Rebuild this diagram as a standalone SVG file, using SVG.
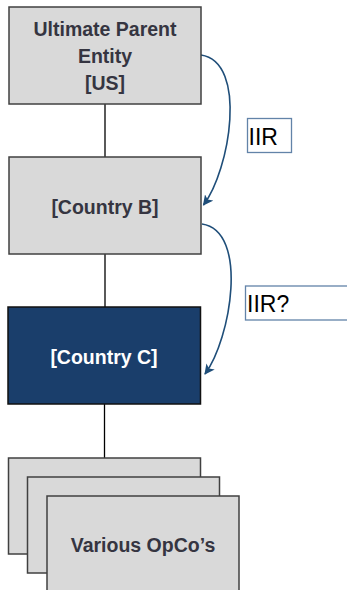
<svg xmlns="http://www.w3.org/2000/svg" width="347" height="590" viewBox="0 0 347 590">
  <style>
    .box { fill: #d9d9d9; stroke: #404040; stroke-width: 1.5; }
    .dark { fill: #1a3e6b; stroke: #111111; stroke-width: 1.5; }
    .name { font-family: "Liberation Sans", Arial, sans-serif; font-weight: bold; font-size: 19.5px; fill: #353541; text-anchor: middle; }
    .name-light { fill: #ffffff; }
    .link { stroke: #000000; stroke-width: 1.3; fill: none; }
    .flow { stroke: #1f4e79; stroke-width: 1.6; fill: none; marker-end: url(#head); }
    .tag { fill: #ffffff; stroke: #6283a8; stroke-width: 1.3; }
    .tag-text { font-family: "Liberation Sans", Arial, sans-serif; font-size: 23px; fill: #000000; }
  </style>
  <defs>
    <marker id="head" viewBox="0 0 10 10" refX="9" refY="5" markerWidth="6.5" markerHeight="6.5" orient="auto" markerUnits="strokeWidth">
      <path d="M0,0 L10,5 L0,10 L2.5,5 Z" fill="#1f4e79"/>
    </marker>
  </defs>

  <!-- ownership lines -->
  <g id="connectors">
    <line class="link" x1="105" y1="104" x2="105" y2="157"/>
    <line class="link" x1="105" y1="254" x2="105" y2="307"/>
    <line class="link" x1="104.5" y1="404" x2="104.5" y2="458"/>
    <path class="flow" d="M201,55 C248,62 230,170 203.5,205"/>
    <path class="flow" d="M202,224 C249,231 231,339 205,374"/>
  </g>

  <g id="ultimate-parent">
    <rect class="box" x="9" y="7" width="192" height="97"/>
    <text class="name" x="105" y="36">Ultimate Parent</text>
    <text class="name" x="105" y="63">Entity</text>
    <text class="name" x="105" y="90">[US]</text>
  </g>

  <g id="country-b">
    <rect class="box" x="9" y="157" width="192" height="97"/>
    <text class="name" x="105" y="214">[Country B]</text>
  </g>

  <g id="country-c">
    <rect class="dark" x="8" y="307" width="192.5" height="97"/>
    <text class="name name-light" x="104" y="364">[Country C]</text>
  </g>

  <g id="opcos">
    <rect class="box" x="8.5" y="458" width="192" height="96"/>
    <rect class="box" x="27.5" y="477" width="192" height="96"/>
    <rect class="box" x="47" y="496" width="192" height="100"/>
    <text class="name" x="143" y="552">Various OpCo’s</text>
  </g>

  <g id="label-iir">
    <rect class="tag" x="247.5" y="118.5" width="44" height="34"/>
    <text class="tag-text" x="248.5" y="145">IIR</text>
  </g>

  <g id="label-iir-q">
    <rect class="tag" x="245.5" y="286" width="105" height="34"/>
    <text class="tag-text" x="247" y="311.5">IIR?</text>
  </g>
</svg>
